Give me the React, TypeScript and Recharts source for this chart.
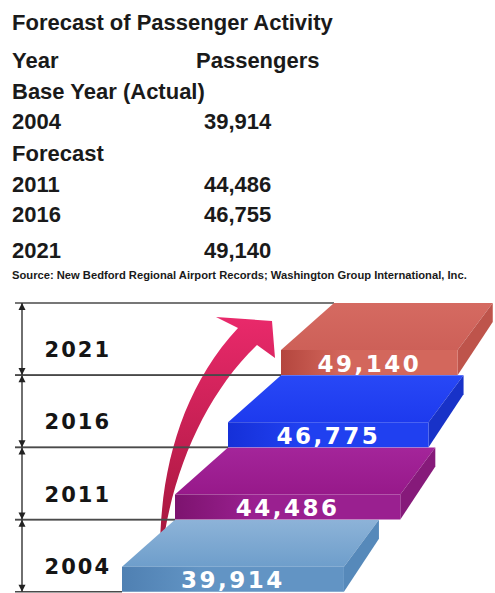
import React from 'react';
import { BarChart, Bar, XAxis, YAxis, Customized } from 'recharts';

// table at the top
const tableTitle = 'Forecast of Passenger Activity';
const tableHeader = ['Year', 'Passengers'];
const baseLabel = 'Base Year (Actual)';
const forecastLabel = 'Forecast';
const tableYears = ['2004', '2011', '2016', '2021'];
const tableValues = [39914, 44486, 46755, 49140];
const sourceNote =
  'Source: New Bedford Regional Airport Records; Washington Group International, Inc.';

// stepped chart
const chartYears = ['2004', '2011', '2016', '2021'];
const chartValues = [39914, 44486, 46775, 49140];

const data = chartYears.map((year, i) => ({ year, passengers: chartValues[i] }));

const slabColors = [
  { top: ['#8db3d8', '#6e9ecb'], front: ['#4f80b2', '#6294c4'], side: '#5689ba' },
  { top: ['#a4259a', '#97198a'], front: ['#7d136f', '#9a2090'], side: '#861a7a' },
  { top: ['#2848f6', '#1d3aee'], front: ['#1530d8', '#2040f0'], side: '#1832c8' },
  { top: ['#d56a61', '#cd6058'], front: ['#b4463e', '#d3675c'], side: '#be544b' },
];

const STEP = 53;
const FRONT_H = 25;
const RIGHT_DX = 35;
const SIDE_BACK = 19;
const AXIS_X = 22;
const LINE_X0 = 15;
const LABEL_FONT = '"DejaVu Sans", Verdana, sans-serif';
const TEXT_FONT = '"Liberation Sans", Arial, sans-serif';

function Slab(props: any) {
  const { x, y, width, height, payload } = props;
  const i = chartYears.indexOf(payload.year);
  const c = slabColors[i];
  const fx = x + 2 + STEP * i;
  const fr = x + width + 3;
  const ft = y + height - FRONT_H;
  const gid = `slab${i}`;
  return (
    <g>
      <defs>
        <linearGradient id={`${gid}t`} x1="0" y1="0" x2="0" y2="1">
          <stop offset="0%" stopColor={c.top[0]} />
          <stop offset="100%" stopColor={c.top[1]} />
        </linearGradient>
        <linearGradient id={`${gid}f`} x1="0" y1="0" x2="1" y2="0">
          <stop offset="0%" stopColor={c.front[0]} />
          <stop offset="35%" stopColor={c.front[1]} />
          <stop offset="100%" stopColor={c.front[1]} />
        </linearGradient>
      </defs>
      {/* grid lines and dimension axis */}
      <line x1={LINE_X0} y1={y} x2={fx + STEP} y2={y} stroke="#4a4a4a" strokeWidth={1.3} />
      <line x1={LINE_X0} y1={y + height} x2={fx} y2={y + height} stroke="#4a4a4a" strokeWidth={1.3} />
      <line x1={AXIS_X} y1={y} x2={AXIS_X} y2={y + height} stroke="#333" strokeWidth={1.4} />
      <polygon
        points={`${AXIS_X},${y} ${AXIS_X - 3.5},${y + 7} ${AXIS_X + 3.5},${y + 7}`}
        fill="#222"
      />
      <polygon
        points={`${AXIS_X},${y + height} ${AXIS_X - 3.5},${y + height - 7} ${AXIS_X + 3.5},${y + height - 7}`}
        fill="#222"
      />
      {/* slab */}
      <polygon
        points={`${fx},${ft} ${fr},${ft} ${fr + RIGHT_DX},${y} ${fx + STEP},${y}`}
        fill={`url(#${gid}t)`}
      />
      <polygon
        points={`${fr},${ft} ${fr + RIGHT_DX},${y} ${fr + RIGHT_DX},${y + SIDE_BACK} ${fr},${y + height}`}
        fill={c.side}
      />
      <rect x={fx} y={ft} width={fr - fx} height={FRONT_H} fill={`url(#${gid}f)`} />
      <text
        x={(fx + fr) / 2}
        y={ft + FRONT_H / 2 + 1}
        textAnchor="middle"
        dominantBaseline="central"
        fill="#fff"
        fontFamily={LABEL_FONT}
        fontWeight={700}
        fontSize={23}
        letterSpacing={2.5}
      >
        {payload.passengers.toLocaleString('en-US')}
      </text>
    </g>
  );
}

function YearTick(props: any) {
  const { x, y, payload } = props;
  return (
    <text
      x={x + 1}
      y={y + 11}
      textAnchor="end"
      dominantBaseline="central"
      fill="#151515"
      fontFamily={LABEL_FONT}
      fontWeight={700}
      fontSize={21}
      letterSpacing={2}
    >
      {payload.value}
    </text>
  );
}

function GrowthArrow() {
  return (
    <g transform="translate(0,-290)">
      <defs>
        <linearGradient id="arrowGrad" gradientUnits="userSpaceOnUse" x1="0" y1="552" x2="0" y2="320">
          <stop offset="0%" stopColor="#a3163b" />
          <stop offset="100%" stopColor="#e8296a" />
        </linearGradient>
      </defs>
      <path
        d="M 160 552 C 160 470, 182 388, 238 328 L 216 317 L 272 321 L 275 358 L 257 345 C 206 394, 172 470, 162 552 Z"
        fill="url(#arrowGrad)"
      />
    </g>
  );
}

export default function App() {
  const rowY = [129, 192, 222, 258];
  return (
    <div
      style={{
        position: 'absolute',
        top: 0,
        left: 0,
        width: 495,
        height: 593,
        background: '#fff',
        overflow: 'hidden',
      }}
    >
      <svg width={495} height={290} style={{ position: 'absolute', top: 0, left: 0 }}>
        <g fill="#1a1a1a" fontFamily={TEXT_FONT} fontWeight={700} fontSize={22}>
          <text x={12} y={30}>{tableTitle}</text>
          <text x={12} y={68}>{tableHeader[0]}</text>
          <text x={196} y={68}>{tableHeader[1]}</text>
          <text x={12} y={99}>{baseLabel}</text>
          <text x={12} y={161}>{forecastLabel}</text>
          {tableYears.map((yr, i) => (
            <g key={yr}>
              <text x={12} y={rowY[i]}>{yr}</text>
              <text x={204} y={rowY[i]}>{tableValues[i].toLocaleString('en-US')}</text>
            </g>
          ))}
          <text x={12} y={279} fontSize={11.2}>{sourceNote}</text>
        </g>
      </svg>
      <div style={{ position: 'absolute', top: 290, left: 0 }}>
        <BarChart
          width={495}
          height={303}
          data={data}
          layout="vertical"
          barCategoryGap={0}
          margin={{ top: 13, right: 5, bottom: 1, left: 0 }}
        >
          <XAxis type="number" hide domain={[22000, 52000]} />
          <YAxis
            type="category"
            dataKey="year"
            reversed
            width={120}
            axisLine={false}
            tickLine={false}
            tickSize={0}
            tickMargin={10}
            tick={<YearTick />}
          />
          <Bar dataKey="passengers" isAnimationActive={false} shape={(p: any) => <Slab {...p} />} />
          <Customized component={GrowthArrow} />
        </BarChart>
      </div>
    </div>
  );
}
